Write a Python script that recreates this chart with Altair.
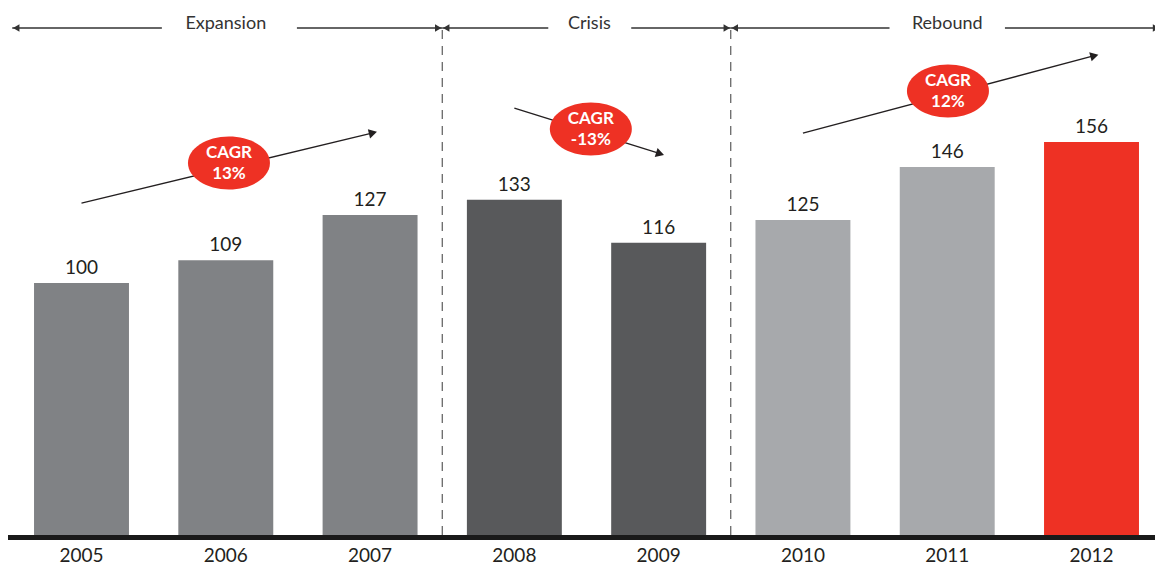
import math
import altair as alt
import pandas as pd

# ---- data ----
years = ["2005", "2006", "2007", "2008", "2009", "2010", "2011", "2012"]
values = [100, 109, 127, 133, 116, 125, 146, 156]
groups = ["Expansion", "Expansion", "Expansion", "Crisis", "Crisis", "Rebound", "Rebound", "Latest"]
group_names = ["Expansion", "Crisis", "Rebound", "Latest"]
group_colors = ["#808285", "#58595b", "#a7a9ac", "#ee3124"]

phase_names = ["Expansion", "Crisis", "Rebound"]
phase_start = [-0.48, 2.5, 4.5]
phase_end = [2.5, 4.5, 7.475]
phase_center = [1.0, 3.52, 6.0]
phase_gap_left = [0.557, 3.235, 5.60]
phase_gap_right = [1.493, 3.81, 6.40]
phase_level = 201.2
divider_x = [2.5, 4.5]
divider_top = 200.4

cagr_labels = ["CAGR\n13%", "CAGR\n-13%", "CAGR\n12%"]
cagr_x = [1.022, 3.53, 6.005]
cagr_y = [147.6, 161.1, 176.2]
arrow_x0 = [0.0, 3.0, 5.0]
arrow_y0 = [131.7, 169.4, 159.5]
arrow_x1 = [2.02, 4.01, 7.02]
arrow_y1 = [159.6, 151.3, 190.2]

# ---- geometry of scales (px per unit) ----
PX_X = 144.29
PX_Y = 2.52
BAR_HALF = 0.329

xs = alt.Scale(domain=[-0.5094, 7.44], nice=False, zero=False)
ys = alt.Scale(domain=[-9.52, 209.13], nice=False, zero=False)
FONT = "Lato"

bars_df = pd.DataFrame({
    "year": years,
    "v": values,
    "group": groups,
    "xc": list(range(len(years))),
})
bars_df["x0"] = bars_df["xc"] - BAR_HALF
bars_df["x1"] = bars_df["xc"] + BAR_HALF
bars_df["zero"] = 0

X = lambda f: alt.X(f, type="quantitative", scale=xs, axis=None)
Y = lambda f: alt.Y(f, type="quantitative", scale=ys, axis=None)

bars = alt.Chart(bars_df).mark_rect().encode(
    x=X("x0"), x2="x1", y=Y("zero"), y2="v",
    color=alt.Color("group:N", scale=alt.Scale(domain=group_names, range=group_colors), legend=None),
)

value_labels = alt.Chart(bars_df).mark_text(
    font=FONT, fontSize=19, color="#231f20", baseline="alphabetic", dy=-9
).encode(x=X("xc"), y=Y("v"), text="v:Q")

year_labels = alt.Chart(bars_df).mark_text(
    font=FONT, fontSize=19, color="#231f20", baseline="middle", dy=21
).encode(x=X("xc"), y=Y("zero"), text="year:N")

base_df = pd.DataFrame({"x0": [-0.5094], "x1": [7.44], "zero": [0]})
baseline = alt.Chart(base_df).mark_rule(color="#1a1a1a", strokeWidth=5, yOffset=2.5).encode(
    x=X("x0"), x2="x1", y=Y("zero")
)

div_df = pd.DataFrame({"x": divider_x, "y0": [0] * len(divider_x), "y1": [divider_top] * len(divider_x)})
dividers = alt.Chart(div_df).mark_rule(color="#3a3a3a", strokeWidth=1, strokeDash=[9, 7]).encode(
    x=X("x"), y=Y("y0"), y2="y1"
)

seg_rows = []
head_rows = []
for n, s, e, gl, gr in zip(phase_names, phase_start, phase_end, phase_gap_left, phase_gap_right):
    seg_rows.append({"x0": s, "x1": gl, "y": phase_level})
    seg_rows.append({"x0": gr, "x1": e, "y": phase_level})
    head_rows.append({"x": s, "y": phase_level, "shape": "triangle-left"})
    head_rows.append({"x": e, "y": phase_level, "shape": "triangle-right"})
seg_df = pd.DataFrame(seg_rows)
head_df = pd.DataFrame(head_rows)

phase_lines = alt.Chart(seg_df).mark_rule(color="#333333", strokeWidth=1.5).encode(
    x=X("x0"), x2="x1", y=Y("y")
)
phase_heads_r = alt.Chart(head_df[head_df["shape"] == "triangle-right"]).mark_point(
    filled=True, color="#333333", size=55, opacity=1, xOffset=-4, shape="triangle-right"
).encode(x=X("x"), y=Y("y"))
phase_heads_l = alt.Chart(head_df[head_df["shape"] == "triangle-left"]).mark_point(
    filled=True, color="#333333", size=55, opacity=1, xOffset=4, shape="triangle-left"
).encode(x=X("x"), y=Y("y"))

phase_df = pd.DataFrame({"name": phase_names, "x": phase_center, "y": [phase_level] * 3})
phase_text = alt.Chart(phase_df).mark_text(
    font=FONT, fontSize=18, color="#333333", baseline="middle", dy=-4
).encode(x=X("x"), y=Y("y"), text="name:N")

arr_df = pd.DataFrame({"x0": arrow_x0, "y0": arrow_y0, "x1": arrow_x1, "y1": arrow_y1})
arr_df["ang"] = [
    (math.degrees(math.atan2(-(b1 - b0) * PX_Y, (a1 - a0) * PX_X)) + 360) % 360
    for a0, b0, a1, b1 in zip(arrow_x0, arrow_y0, arrow_x1, arrow_y1)
]
arr_lines = alt.Chart(arr_df).mark_rule(color="#231f20", strokeWidth=1.3).encode(
    x=X("x0"), y=Y("y0"), x2="x1", y2="y1"
)
arr_heads = alt.Chart(arr_df).mark_point(
    filled=True, color="#231f20", size=90, opacity=1, shape="triangle-right"
).encode(x=X("x1"), y=Y("y1"), angle=alt.Angle("ang:Q", scale=None))

cagr_df = pd.DataFrame({"label": cagr_labels, "x": cagr_x, "y": cagr_y})
ellipse_path = "M -1 0 A 1 0.646 0 1 1 1 0 A 1 0.646 0 1 1 -1 0 Z"
ellipses = alt.Chart(cagr_df).mark_point(
    filled=True, color="#ee3124", size=6724, opacity=1, shape=ellipse_path, strokeWidth=0
).encode(x=X("x"), y=Y("y"))
cagr_text = alt.Chart(cagr_df).mark_text(
    font=FONT, fontSize=17, fontWeight="bold", color="white", baseline="middle",
    lineBreak="\n", lineHeight=21, dy=-10
).encode(x=X("x"), y=Y("y"), text="label:N")

chart = alt.layer(
    bars, baseline, dividers, value_labels, year_labels,
    phase_lines, phase_heads_r, phase_heads_l, phase_text,
    arr_lines, arr_heads, ellipses, cagr_text,
).properties(
    width=1147, height=551,
    autosize=alt.AutoSizeParams(type="none"),
    padding={"left": 0, "top": 0, "right": 0, "bottom": 8},
).configure_view(stroke=None)

chart.save("out.html", embed_options={"renderer": "svg", "actions": False})
